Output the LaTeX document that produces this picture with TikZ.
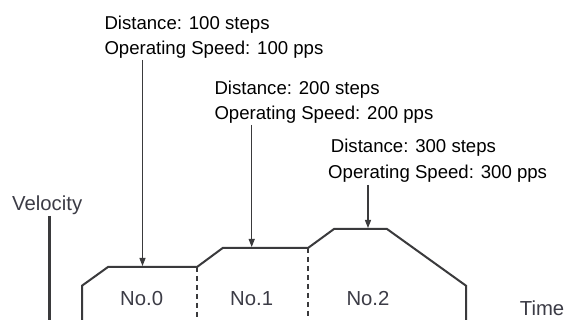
\documentclass[tikz,border=0pt]{standalone}
\usepackage{fontspec}
\setmainfont{Liberation Sans}
\usetikzlibrary{arrows.meta}
\definecolor{ln}{HTML}{3A3A3C}
\definecolor{lbl}{HTML}{3C3C46}
\begin{document}
\begin{tikzpicture}[x=1pt,y=-1pt,
  toplbl/.style={anchor=base west,inner sep=0pt,font=\fontsize{18.6}{22}\selectfont,text=black},
  lowlbl/.style={anchor=base west,inner sep=0pt,font=\fontsize{20.3}{24}\selectfont,text=lbl},
  callout/.style={draw=ln,line width=1.2pt,-{Triangle[length=8pt,width=6pt]}},
  profile/.style={draw=ln,line width=2pt,line join=miter},
  divider/.style={draw=ln,line width=1.1pt,dash pattern=on 5pt off 4pt},
  axis/.style={draw=ln,line width=2.6pt}]
\fill[white] (0,0) rectangle (566,320);
\useasboundingbox (0,0) rectangle (566,320);
% labels
\node[toplbl] (d1) at (104.3,29.5) {Distance: 100 steps};
\node[toplbl] (s1) at (104.3,55) {Operating Speed: 100 pps};
\node[toplbl] (d2) at (214.3,94.3) {Distance: 200 steps};
\node[toplbl] (s2) at (214.3,120) {Operating Speed: 200 pps};
\node[toplbl] (d3) at (330.7,152.7) {Distance: 300 steps};
\node[toplbl] (s3) at (328,179) {Operating Speed: 300 pps};
\node[lowlbl] (vel) at (12,210.7) {Velocity};
\node[lowlbl] (n0) at (120,305.7) {No.0};
\node[lowlbl] (n1) at (230,305.7) {No.1};
\node[lowlbl] (n2) at (346.3,305.7) {No.2};
\node[lowlbl] (tm) at (519.7,315.7) {Time};
% profile points
\coordinate (p0) at (82,321);
\coordinate (p1) at (82,285.7);
\coordinate (p2) at (108,267);
\coordinate (p3) at (197,267);
\coordinate (p4) at (222.7,248);
\coordinate (p5) at (308,248);
\coordinate (p6) at (334,229);
\coordinate (p7) at (387,229);
\coordinate (p8) at (466,285.7);
\coordinate (p9) at (466,321);
\path[profile] (p0) -- (p1) -- (p2) -- (p3) -- (p4) -- (p5) -- (p6) -- (p7) -- (p8) -- (p9);
% dividers
\coordinate (b3) at (197,321);
\coordinate (b5) at (308,321);
\path[divider] (p3) -- (b3);
\path[divider] (p5) -- (b5);
% axis
\coordinate (ax0) at (49.3,216);
\coordinate (ax1) at (49.3,321);
\path[axis] (ax0) -- (ax1);
% callouts
\coordinate (a1s) at (142.5,60);
\coordinate (a1e) at (142.5,266);
\coordinate (a2s) at (251.7,125);
\coordinate (a2e) at (251.7,247);
\coordinate (a3s) at (368,185);
\coordinate (a3e) at (368,228);
\path[callout] (a1s) -- (a1e);
\path[callout] (a2s) -- (a2e);
\path[callout] (a3s) -- (a3e);
\end{tikzpicture}
\end{document}
